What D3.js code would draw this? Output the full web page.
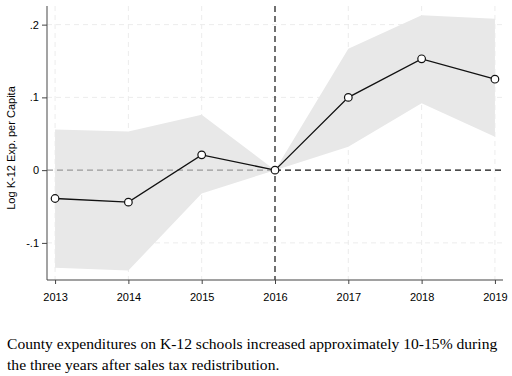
<!DOCTYPE html>
<html>
<head>
<meta charset="utf-8">
<script src="https://cdn.jsdelivr.net/npm/d3@7"></script>
<style>
  body { margin: 0; background: #fff; }
  svg { display: block; }
</style>
</head>
<body>
<svg id="chart" width="512" height="376"></svg>
<script>
(function () {
  'use strict';

  // Event-study estimates, relative to 2016
  var years = [2013, 2014, 2015, 2016, 2017, 2018, 2019];
  var estimate = [-0.039, -0.044, 0.021, 0, 0.100, 0.153, 0.125];
  var ciUpper = [0.056, 0.053, 0.076, 0, 0.167, 0.213, 0.208];
  var ciLower = [-0.134, -0.138, -0.032, 0, 0.032, 0.092, 0.046];
  var yTicks = [-0.1, 0, 0.1, 0.2];
  var yTickLabels = ['-.1', '0', '.1', '.2'];
  var eventYear = 2016;
  var yLabel = 'Log K-12 Exp. per Capita';
  var caption = [
    'County expenditures on K-12 schools increased approximately 10-15% during',
    'the three years after sales tax redistribution.'
  ];

  var svg = d3.select('#chart');
  var m = { left: 47, right: 503, top: 6, bottom: 280 };

  var x = d3.scaleLinear().domain([2012.89, 2019.11]).range([m.left, m.right]);
  var y = d3.scaleLinear().domain([-0.151, 0.2256]).range([m.bottom, m.top]);

  var rows = years.map(function (yr, i) {
    return { year: yr, est: estimate[i], hi: ciUpper[i], lo: ciLower[i] };
  });

  // Grid lines
  var grid = svg.append('g');
  yTicks.filter(function (t) { return t !== 0; }).forEach(function (t) {
    grid.append('line')
      .attr('x1', m.left).attr('x2', m.right)
      .attr('y1', y(t)).attr('y2', y(t))
      .attr('stroke', '#ececec').attr('stroke-width', 1)
      .attr('stroke-dasharray', '5,4');
  });
  years.filter(function (yr) { return yr !== eventYear; }).forEach(function (yr) {
    grid.append('line')
      .attr('x1', x(yr)).attr('x2', x(yr))
      .attr('y1', m.top).attr('y2', m.bottom)
      .attr('stroke', '#ececec').attr('stroke-width', 1)
      .attr('stroke-dasharray', '5,4');
  });

  // Confidence band
  var area = d3.area()
    .x(function (d) { return x(d.year); })
    .y0(function (d) { return y(d.lo); })
    .y1(function (d) { return y(d.hi); });
  svg.append('path')
    .datum(rows)
    .attr('d', area)
    .attr('fill', '#e8e8e8');

  // Reference lines
  svg.append('line')
    .attr('x1', m.left).attr('x2', x(eventYear))
    .attr('y1', y(0)).attr('y2', y(0))
    .attr('stroke', '#999').attr('stroke-width', 1.2)
    .attr('stroke-dasharray', '6,4');
  svg.append('line')
    .attr('x1', x(eventYear)).attr('x2', m.right)
    .attr('y1', y(0)).attr('y2', y(0))
    .attr('stroke', '#111').attr('stroke-width', 1.2)
    .attr('stroke-dasharray', '6,4');
  svg.append('line')
    .attr('x1', x(eventYear)).attr('x2', x(eventYear))
    .attr('y1', m.top).attr('y2', m.bottom)
    .attr('stroke', '#111').attr('stroke-width', 1.2)
    .attr('stroke-dasharray', '6,4');

  // Axes
  var yAxis = d3.axisLeft(y)
    .tickValues(yTicks)
    .tickSize(5)
    .tickFormat(function (d, i) { return yTickLabels[i]; });
  var gy = svg.append('g')
    .attr('transform', 'translate(' + m.left + ',0)')
    .call(yAxis);
  gy.select('.domain').attr('stroke', '#666').attr('stroke-width', 1.2)
    .attr('d', 'M0,' + m.top + 'V' + m.bottom);
  gy.selectAll('.tick line').attr('stroke', '#444');
  gy.selectAll('.tick text')
    .attr('font-family', 'Liberation Sans, Arial, sans-serif')
    .attr('font-size', 11).attr('fill', '#000');

  var xAxis = d3.axisBottom(x)
    .tickValues(years)
    .tickSize(4)
    .tickFormat(d3.format('d'));
  var gx = svg.append('g')
    .attr('transform', 'translate(0,' + m.bottom + ')')
    .call(xAxis);
  gx.select('.domain').attr('stroke', '#444').attr('stroke-width', 1.2)
    .attr('d', 'M' + m.left + ',0H' + m.right);
  gx.selectAll('.tick line').attr('stroke', '#444');
  gx.selectAll('.tick text')
    .attr('font-family', 'Liberation Sans, Arial, sans-serif')
    .attr('font-size', 11).attr('fill', '#000')
    .attr('dy', '1.3em');

  // Estimate line and markers
  var line = d3.line()
    .x(function (d) { return x(d.year); })
    .y(function (d) { return y(d.est); });
  svg.append('path')
    .datum(rows)
    .attr('d', line)
    .attr('fill', 'none')
    .attr('stroke', '#111')
    .attr('stroke-width', 1.3);
  svg.selectAll('.pt')
    .data(rows)
    .enter()
    .append('circle')
    .attr('class', 'pt')
    .attr('cx', function (d) { return x(d.year); })
    .attr('cy', function (d) { return y(d.est); })
    .attr('r', 3.8)
    .attr('fill', '#fff')
    .attr('stroke', '#111')
    .attr('stroke-width', 1.2);

  // Y label
  svg.append('text')
    .attr('transform', 'translate(15,' + ((m.top + m.bottom) / 2 + 5) + ') rotate(-90)')
    .attr('text-anchor', 'middle')
    .attr('font-family', 'Liberation Sans, Arial, sans-serif')
    .attr('font-size', 11)
    .text(yLabel);

  // Caption
  caption.forEach(function (t, i) {
    svg.append('text')
      .attr('x', 7)
      .attr('y', 349 + i * 21)
      .attr('font-family', 'Liberation Serif, Times New Roman, serif')
      .attr('font-size', 15.6)
      .text(t);
  });
})();
</script>
</body>
</html>
